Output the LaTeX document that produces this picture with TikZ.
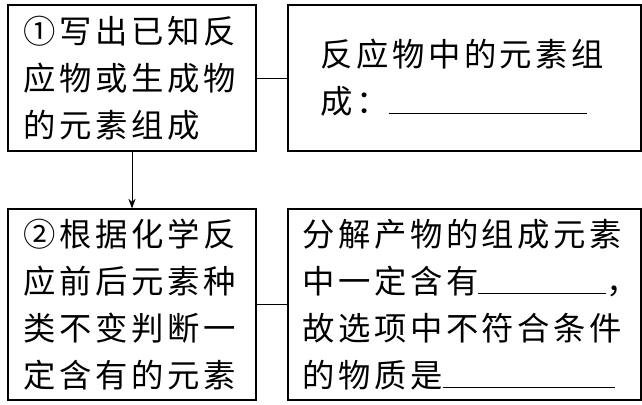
\documentclass[tikz,border=0pt]{standalone}
\usepackage{fontspec}
\newfontfamily\cjk{Noto Sans CJK SC}[LetterSpace=11]
\usetikzlibrary{arrows.meta,positioning}
\begin{document}
\begin{tikzpicture}[
  x=0.025cm, y=-0.025cm,
  box/.style = {draw, line width=0.9pt, align=left, inner sep=0pt,
                font=\cjk\fontsize{23}{33.4}\selectfont},
  narrow/.style = {box, minimum width=6.2cm, text width=5.4cm},
  wide/.style   = {box, minimum width=8.825cm},
  ln/.style  = {line width=0.7pt},
  arr/.style = {ln, -{Stealth[length=2.4mm, width=1.8mm]}},
]
\useasboundingbox (0,0) rectangle (642,405);
\node[narrow, minimum height=3.65cm] (write) at (132,78)
  {①写出已知反\\应物或生成物\\的元素组成};
\node[wide, minimum height=3.65cm, text width=7.2cm] (elem) at (464.5,78)
  {反应物中的元素组\\成：\rule[-0.5pt]{4.95cm}{0.8pt}};
\node[narrow, minimum height=4.775cm] (judge) at (132,304.5)
  {②根据化学反\\应前后元素种\\类不变判断一\\定含有的元素};
\node[wide, minimum height=4.775cm, text width=8.1cm] (answer) at (464.5,304.5)
  {分解产物的组成元素\\中一定含有\rule[-0.5pt]{3.2cm}{0.8pt}\makebox[0.4cm][l]{，}\\故选项中不符合条件\\的物质是\rule[-0.5pt]{4.3cm}{0.8pt}};
\draw[ln] (write) -- (elem);
\draw[arr] (write) -- (judge);
\draw[ln] (judge) -- (answer);
\end{tikzpicture}
\end{document}
